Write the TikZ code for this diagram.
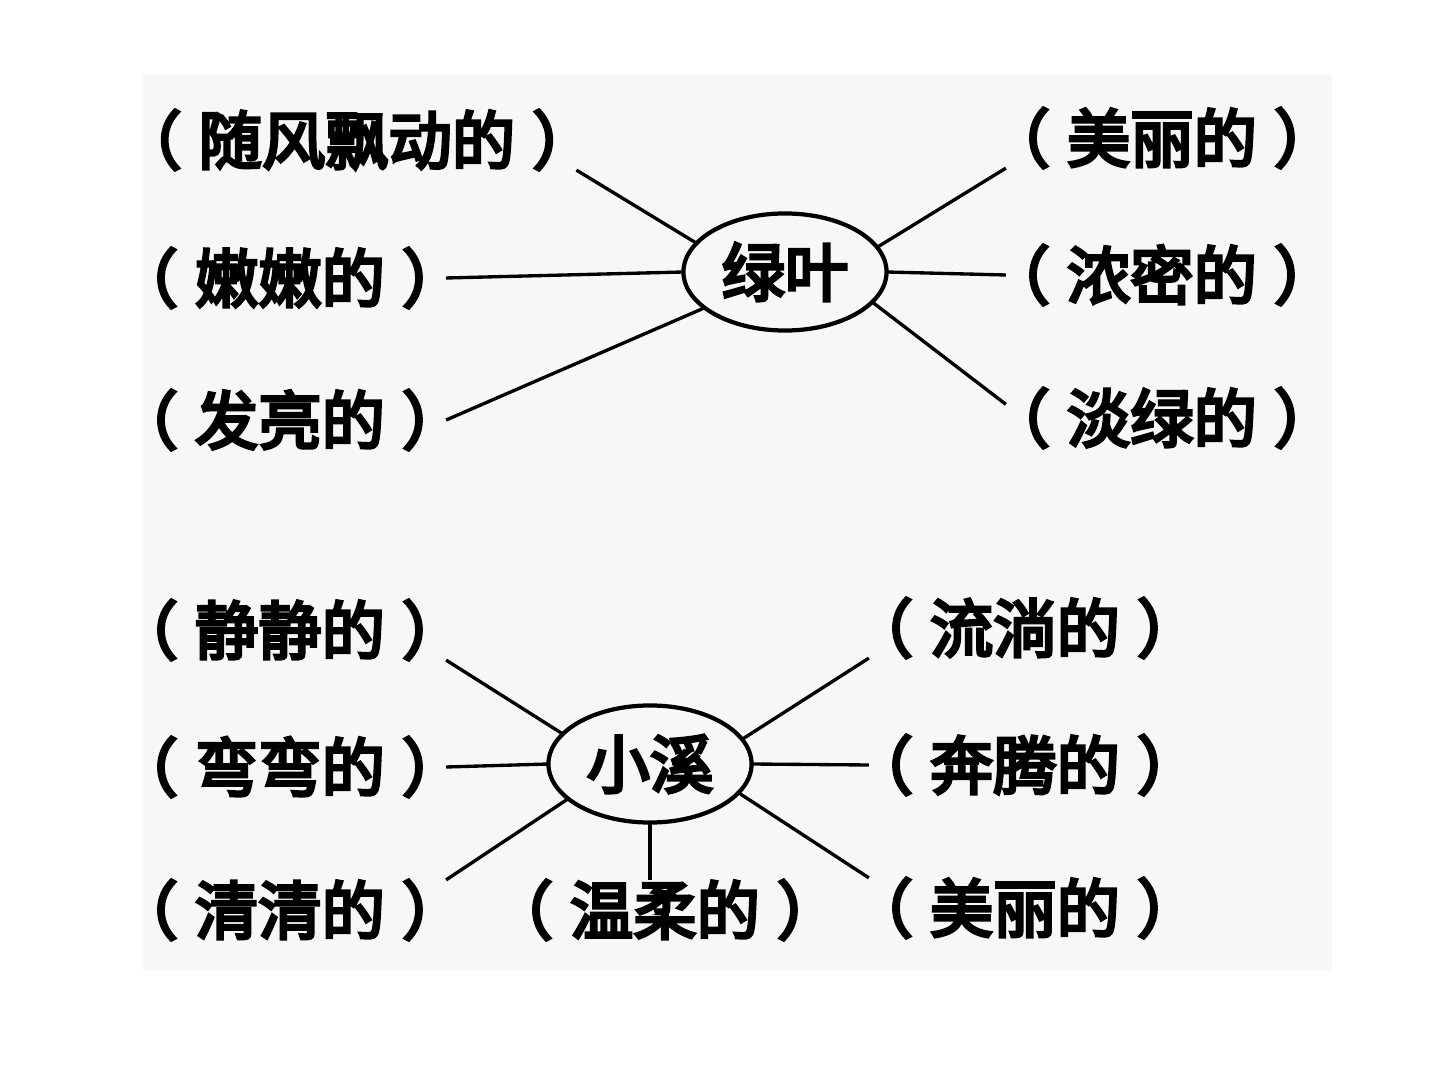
\documentclass[tikz,border=0pt]{standalone}
\usepackage{fontspec}
\newfontfamily\cjk[FakeBold=5]{Noto Sans CJK SC}
\usetikzlibrary{shapes.geometric}
\newcommand\fillin[1]{\kern-0.47em（\hspace{0.27em}#1\hspace{0.27em}）\kern-0.47em}

\begin{document}
\begin{tikzpicture}[x=0.01cm,y=-0.01cm,
  word/.style={font=\cjk\fontsize{18}{21}\selectfont,inner sep=0pt,outer xsep=3pt,outer ysep=0pt},
  hub/.style={word,draw,ellipse,line width=1.2pt,outer sep=0pt,
    minimum width=2.03cm,minimum height=1.17cm},
  link/.style={line width=0.95pt}]
  \useasboundingbox (0,0) rectangle (1440,1080);
  \fill[gray!6] (143,75) rectangle (1332,970);
  % 绿叶
  \node[hub] (leaf) at (785,272) {绿叶};
  \node[word] (l1) at (357,140) {\fillin{随风飘动的}};
  \node[word] (l2) at (290,278) {\fillin{嫩嫩的}};
  \node[word] (l3) at (290,420) {\fillin{发亮的}};
  \node[word] (r1) at (1162,138) {\fillin{美丽的}};
  \node[word] (r2) at (1162,275) {\fillin{浓密的}};
  \node[word] (r3) at (1162,418) {\fillin{淡绿的}};
  \draw[link] (l1.south east) -- (leaf.162);
  \draw[link] (l2.east) -- (leaf.west);
  \draw[link] (l3.east) -- (leaf.204);
  \draw[link] (r1.south west) -- (leaf.15);
  \draw[link] (r2.west) -- (leaf.east);
  \draw[link] (r3.175) -- (leaf.341);
  % 小溪
  \node[hub] (brook) at (650,764) {小溪};
  \node[word] (s1) at (290,630) {\fillin{静静的}};
  \node[word] (s2) at (290,767) {\fillin{弯弯的}};
  \node[word] (s3) at (290,910) {\fillin{清清的}};
  \node[word] (s4) at (665,910) {\fillin{温柔的}};
  \node[word] (s5) at (1025,628) {\fillin{流淌的}};
  \node[word] (s6) at (1025,765) {\fillin{奔腾的}};
  \node[word] (s7) at (1025,908) {\fillin{美丽的}};
  \draw[link] (s1.south east) -- (brook.161);
  \draw[link] (s2.east) -- (brook.west);
  \draw[link] (s3.north east) -- (brook.203);
  \draw[link] (brook.south) -- (brook.south |- s4.north);
  \draw[link] (s5.south west) -- (brook.15);
  \draw[link] (s6.west) -- (brook.east);
  \draw[link] (s7.north west) -- (brook.342);
\end{tikzpicture}
\end{document}
